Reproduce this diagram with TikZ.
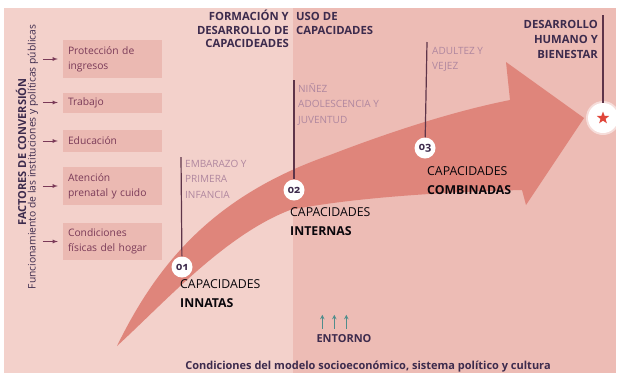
\documentclass[tikz,border=0pt]{standalone}
\usepackage{fontspec}
\setmainfont{Open Sans}
\usetikzlibrary{shapes.geometric}
\definecolor{bgleft}{HTML}{F3D1CB}
\definecolor{bgright}{HTML}{EDBCB5}
\definecolor{arrowfill}{HTML}{DF857B}
\definecolor{boxfill}{HTML}{EBB9B2}
\definecolor{boxtext}{HTML}{7A3A58}
\definecolor{stagetext}{HTML}{B0879F}
\definecolor{heads}{HTML}{3D2B4D}
\definecolor{markline}{HTML}{5E3449}
\definecolor{entteal}{HTML}{4E8D8C}
\definecolor{starred}{HTML}{E0463A}
\begin{document}
\begin{tikzpicture}[x=1pt,y=-1pt,
  factbox/.style={fill=boxfill,text=boxtext,minimum width=99pt,text width=89pt,inner xsep=5pt,inner ysep=0pt,align=left,font=\fontsize{10.3}{15}\selectfont},
  factarrow/.style={boxtext,line width=.8pt,-latex},
  hdr/.style={text=heads,inner sep=0pt,font=\bfseries\fontsize{11.3}{13.5}\selectfont},
  stage/.style={text=stagetext,inner sep=0pt,anchor=north west,align=left,font=\fontsize{10}{15.5}\selectfont},
  stagecirc/.style={circle,fill=white,inner sep=0pt,minimum size=21pt,text=heads,font=\bfseries\fontsize{11}{11}\selectfont\addfontfeatures{Numbers=OldStyle}},
  caplabel/.style={text=black!85!heads,inner sep=0pt,anchor=north west,align=left,font=\fontsize{12.3}{19}\selectfont},
  markline/.style={draw=markline,line width=1.2pt}
  ]

\useasboundingbox (0,0) rectangle (620,376);
\fill[white] (0,0) rectangle (620,376);
\fill[bgleft] (4,8) rectangle (293,373);
\fill[bgright] (293,8) rectangle (616,373);

\fill[arrowfill] (117,346) .. controls (158,262) and (215,195) .. (330,155) .. controls (400,128) and (460,110) .. (510,100) -- (506,62) -- (584,118) -- (526,205) -- (522,190) .. controls (440,192) and (350,198) .. (290,210) .. controls (225,235) and (165,302) .. cycle;

\node[rotate=90,text=heads,inner sep=0pt,font=\bfseries\fontsize{11}{12}\selectfont] (fac) at (21,152) {FACTORES DE CONVERSIÓN};
\node[rotate=90,text=heads,inner sep=0pt,font=\fontsize{10.3}{12}\selectfont] (inst) at (33,157) {Funcionamiento de las instituciones y políticas públicas};

\node[factbox,minimum height=38pt] (prot) at (112.5,59) {Protección de\\ingresos};
\node[factbox,minimum height=20pt] (trab) at (112.5,102.5) {Trabajo};
\node[factbox,minimum height=22pt] (educ) at (112.5,141) {Educación};
\node[factbox,minimum height=38pt] (aten) at (112.5,186) {Atención\\prenatal y cuido};
\node[factbox,minimum height=37pt] (cond) at (112.5,241.5) {Condiciones\\físicas del hogar};
\foreach \b in {prot,trab,educ,aten,cond}
  \draw[factarrow] ([xshift=-20pt]\b.west) -- ([xshift=-5pt]\b.west);

\node[hdr,anchor=north east,align=right] (form) at (289,10) {FORMACIÓN Y\\DESARROLLO DE\\CAPACIDEADES};
\node[hdr,anchor=north west,align=left] (uso) at (296,12.5) {USO DE\\CAPACIDADES};
\node[hdr,anchor=north east,align=right,font=\bfseries\fontsize{11.3}{15}\selectfont] (meta) at (598,20.5) {DESARROLLO\\HUMANO Y\\BIENESTAR};

\coordinate (t01) at (181,157);
\coordinate (t02) at (294,80);
\coordinate (t03) at (427,42);
\coordinate (tgoal) at (603,15);

\node[stagecirc] (c01) at (182,267) {01};
\node[stagecirc] (c02) at (294,190) {02};
\node[stagecirc] (c03) at (425,148) {03};
\fill[white,opacity=.5] (603,118) circle (17pt);
\node[circle,fill=white,minimum size=30pt,inner sep=0pt] (goal) at (603,118) {};
\node[star,star points=5,star point ratio=2.4,fill=starred,minimum size=13pt,inner sep=0pt] (estrella) at (goal) {};

\draw[markline] (t01) -- (c01);
\draw[markline] (t02) -- (c02);
\draw[markline] (t03) -- (c03);
\draw[markline] (tgoal) -- (goal);

\node[stage] (emb) at (185,160) {EMBARAZO Y\\PRIMERA\\INFANCIA};
\node[stage] (nin) at (298,83) {NIÑEZ\\ADOLESCENCIA Y\\JUVENTUD};
\node[stage] (adu) at (432,47) {ADULTEZ Y\\VEJEZ};

\node[caplabel] (innatas) at (180,279) {CAPACIDADES\\\textbf{INNATAS}};
\node[caplabel] (internas) at (290,207) {CAPACIDADES\\\textbf{INTERNAS}};
\node[caplabel] (combinadas) at (427,166) {CAPACIDADES\\\textbf{COMBINADAS}};

\node[text=heads,inner sep=0pt,font=\bfseries\fontsize{11}{12}\selectfont] (ent) at (344,339) {ENTORNO};
\foreach \dx in {6,18,30}
  \draw[entteal,line width=1pt,-stealth] ([xshift=\dx pt,yshift=6pt]ent.north west) -- ++(0,-14);
\node[text=heads,inner sep=0pt,font=\bfseries\fontsize{11}{12}\selectfont] (sist) at (368,367) {Condiciones del modelo socioeconómico, sistema político y cultura};

\end{tikzpicture}
\end{document}
